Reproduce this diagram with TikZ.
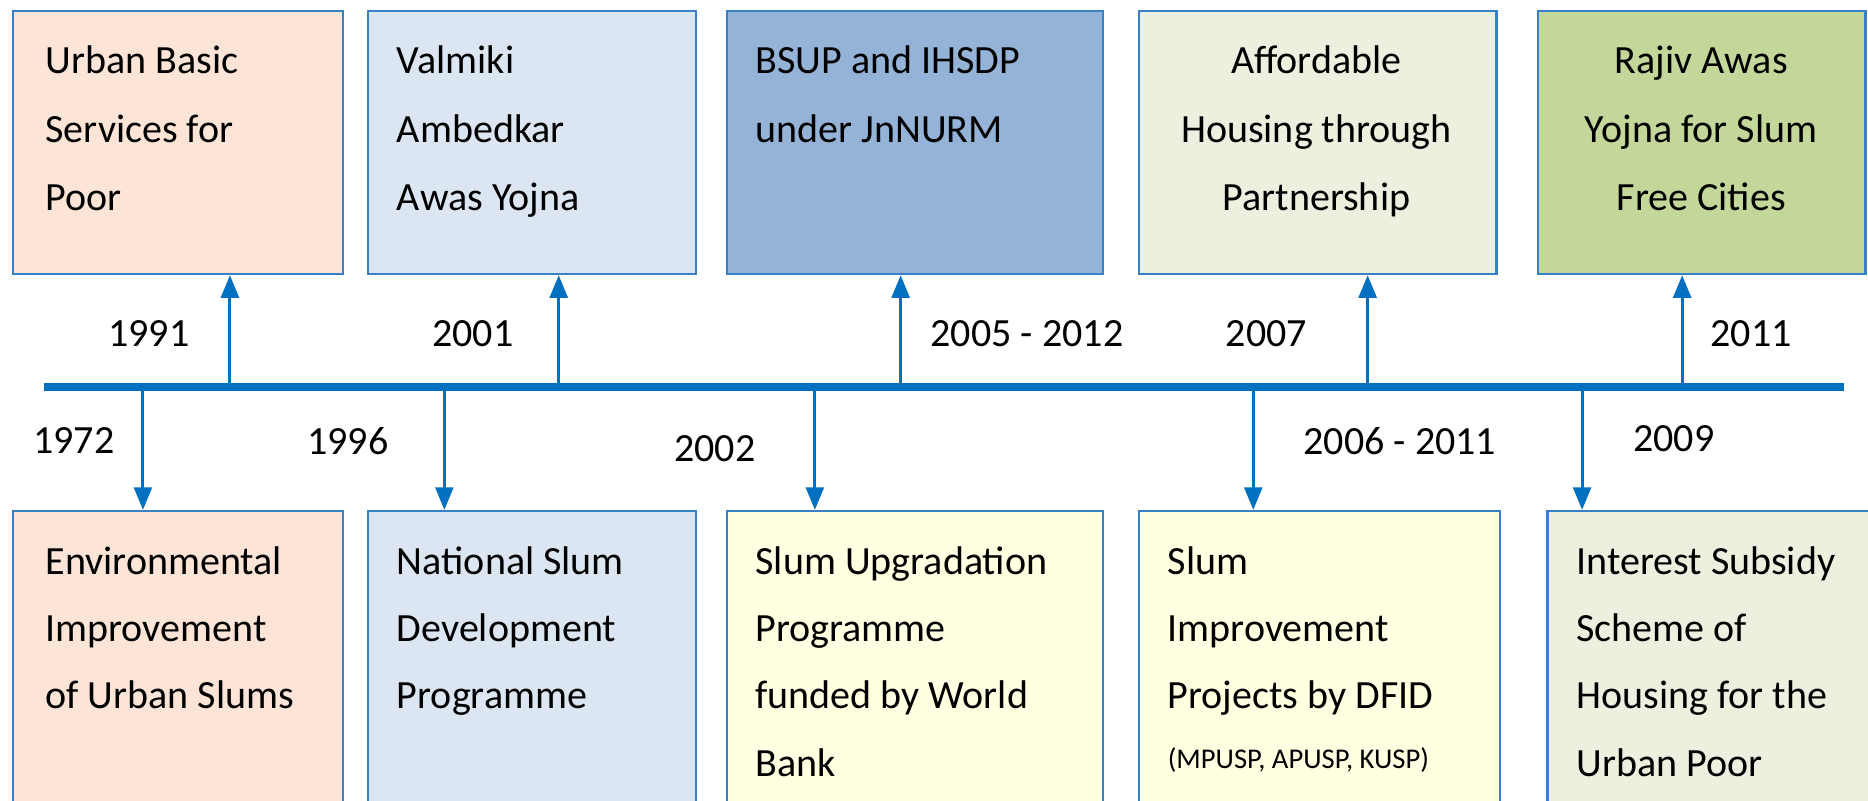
\documentclass[tikz,border=0pt]{standalone}
\usepackage{fontspec}
\setmainfont{Carlito}
\usetikzlibrary{arrows.meta}
\definecolor{peach}{HTML}{FCE4D6}
\definecolor{paleblue}{HTML}{DCE6F2}
\definecolor{midblue}{HTML}{95B3D7}
\definecolor{palegreen}{HTML}{EBF1DE}
\definecolor{olivegreen}{HTML}{C4D79B}
\definecolor{paleyellow}{HTML}{FFFFE2}
\definecolor{edgeblue}{HTML}{3A80C8}
\definecolor{lineblue}{HTML}{0070C0}
\tikzset{
  box/.style={draw=edgeblue, line width=2pt, anchor=north west, inner sep=0pt},
  topbox/.style={box, minimum height=221pt},
  botbox/.style={box, minimum height=260pt},
  toptxt/.style={font=\fontsize{33.6}{57.5}\selectfont, align=left, inner sep=0pt, anchor=north west},
  toptxtc/.style={font=\fontsize{33.6}{57.5}\selectfont, align=center, inner sep=0pt, anchor=north},
  bottxt/.style={font=\fontsize{33.6}{56.5}\selectfont, align=left, inner sep=0pt, anchor=north west},
  smalltxt/.style={font=\fontsize{24}{28}\selectfont, inner sep=0pt, anchor=base west},
  year/.style={font=\fontsize{33.6}{40}\selectfont, inner sep=0pt},
  timeline/.style={draw=lineblue, line width=7pt},
  arr/.style={draw=lineblue, line width=2.5pt, -{Triangle[width=15pt,length=19pt]}}
}
\begin{document}
\begin{tikzpicture}[x=1pt,y=-1pt]
\clip (0,0) rectangle (1568,672);
\fill[white] (0,0) rectangle (1568,672);

% top boxes
\node[topbox, fill=peach, minimum width=277pt] (top1) at (10,8) {};
\node[topbox, fill=paleblue, minimum width=275pt] (top2) at (308,8) {};
\node[topbox, fill=midblue, minimum width=316pt] (top3) at (609,8) {};
\node[topbox, fill=palegreen, minimum width=300pt] (top4) at (955,8) {};
\node[topbox, fill=olivegreen, minimum width=275pt] (top5) at (1290,8) {};

\node[toptxt] (top1t) at (38,38.5) {Urban Basic\\Services for\\Poor};
\node[toptxt] (top2t) at (333,38.5) {Valmiki\\Ambedkar\\Awas Yojna};
\node[toptxt] (top3t) at (634,38.5) {BSUP and IHSDP\\under JnNURM};
\node[toptxtc] (top4t) at (1105,38.5) {Affordable\\Housing through\\Partnership};
\node[toptxtc] (top5t) at (1428,38.5) {Rajiv Awas\\Yojna for Slum\\Free Cities};

% bottom boxes
\node[botbox, fill=peach, minimum width=277pt] (bot1) at (10,428) {};
\node[botbox, fill=paleblue, minimum width=275pt] (bot2) at (308,428) {};
\node[botbox, fill=paleyellow, minimum width=316pt] (bot3) at (609,428) {};
\node[botbox, fill=paleyellow, minimum width=303pt] (bot4) at (955,428) {};
\node[botbox, fill=palegreen, minimum width=280pt] (bot5) at (1298,428) {};

\node[bottxt] (bot1t) at (38,458.5) {Environmental\\Improvement\\of Urban Slums};
\node[bottxt] (bot2t) at (333,458.5) {National Slum\\Development\\Programme};
\node[bottxt] (bot3t) at (634,458.5) {Slum Upgradation\\Programme\\funded by World\\Bank};
\node[bottxt] (bot4t) at (980,458.5) {Slum\\Improvement\\Projects by DFID};
\node[smalltxt] (bot4n) at (980,645) {(MPUSP, APUSP, KUSP)};
\node[bottxt] (bot5t) at (1323,458.5) {Interest Subsidy\\Scheme of\\Housing for the\\Urban Poor};

% timeline
\coordinate (tlA) at (37,325);
\coordinate (tlB) at (1548,325);
\draw[timeline] (tlA) -- (tlB);

% up arrows
\coordinate (u1) at (193,325);
\coordinate (u2) at (469,325);
\coordinate (u3) at (756,325);
\coordinate (u4) at (1148,325);
\coordinate (u5) at (1412,325);
\draw[arr] (u1) -- (u1 |- top1.south);
\draw[arr] (u2) -- (u2 |- top2.south);
\draw[arr] (u3) -- (u3 |- top3.south);
\draw[arr] (u4) -- (u4 |- top4.south);
\draw[arr] (u5) -- (u5 |- top5.south);

% down arrows
\coordinate (d1) at (120,325);
\coordinate (d2) at (373,325);
\coordinate (d3) at (684,325);
\coordinate (d4) at (1052,325);
\coordinate (d5) at (1328,325);
\draw[arr] (d1) -- (d1 |- bot1.north);
\draw[arr] (d2) -- (d2 |- bot2.north);
\draw[arr] (d3) -- (d3 |- bot3.north);
\draw[arr] (d4) -- (d4 |- bot4.north);
\draw[arr] (d5) -- (d5 |- bot5.north);

% year labels
\node[year] (y1991) at (125,280) {1991};
\node[year] (y2001) at (397,280) {2001};
\node[year] (y2005) at (862,280) {2005 - 2012};
\node[year] (y2007) at (1063,280) {2007};
\node[year] (y2011) at (1470,280) {2011};
\node[year] (y1972) at (62,370) {1972};
\node[year] (y1996) at (292,370) {1996};
\node[year] (y2002) at (600,377) {2002};
\node[year] (y2006) at (1175,370) {2006 - 2011};
\node[year] (y2009) at (1405,368) {2009};
\end{tikzpicture}
\end{document}
